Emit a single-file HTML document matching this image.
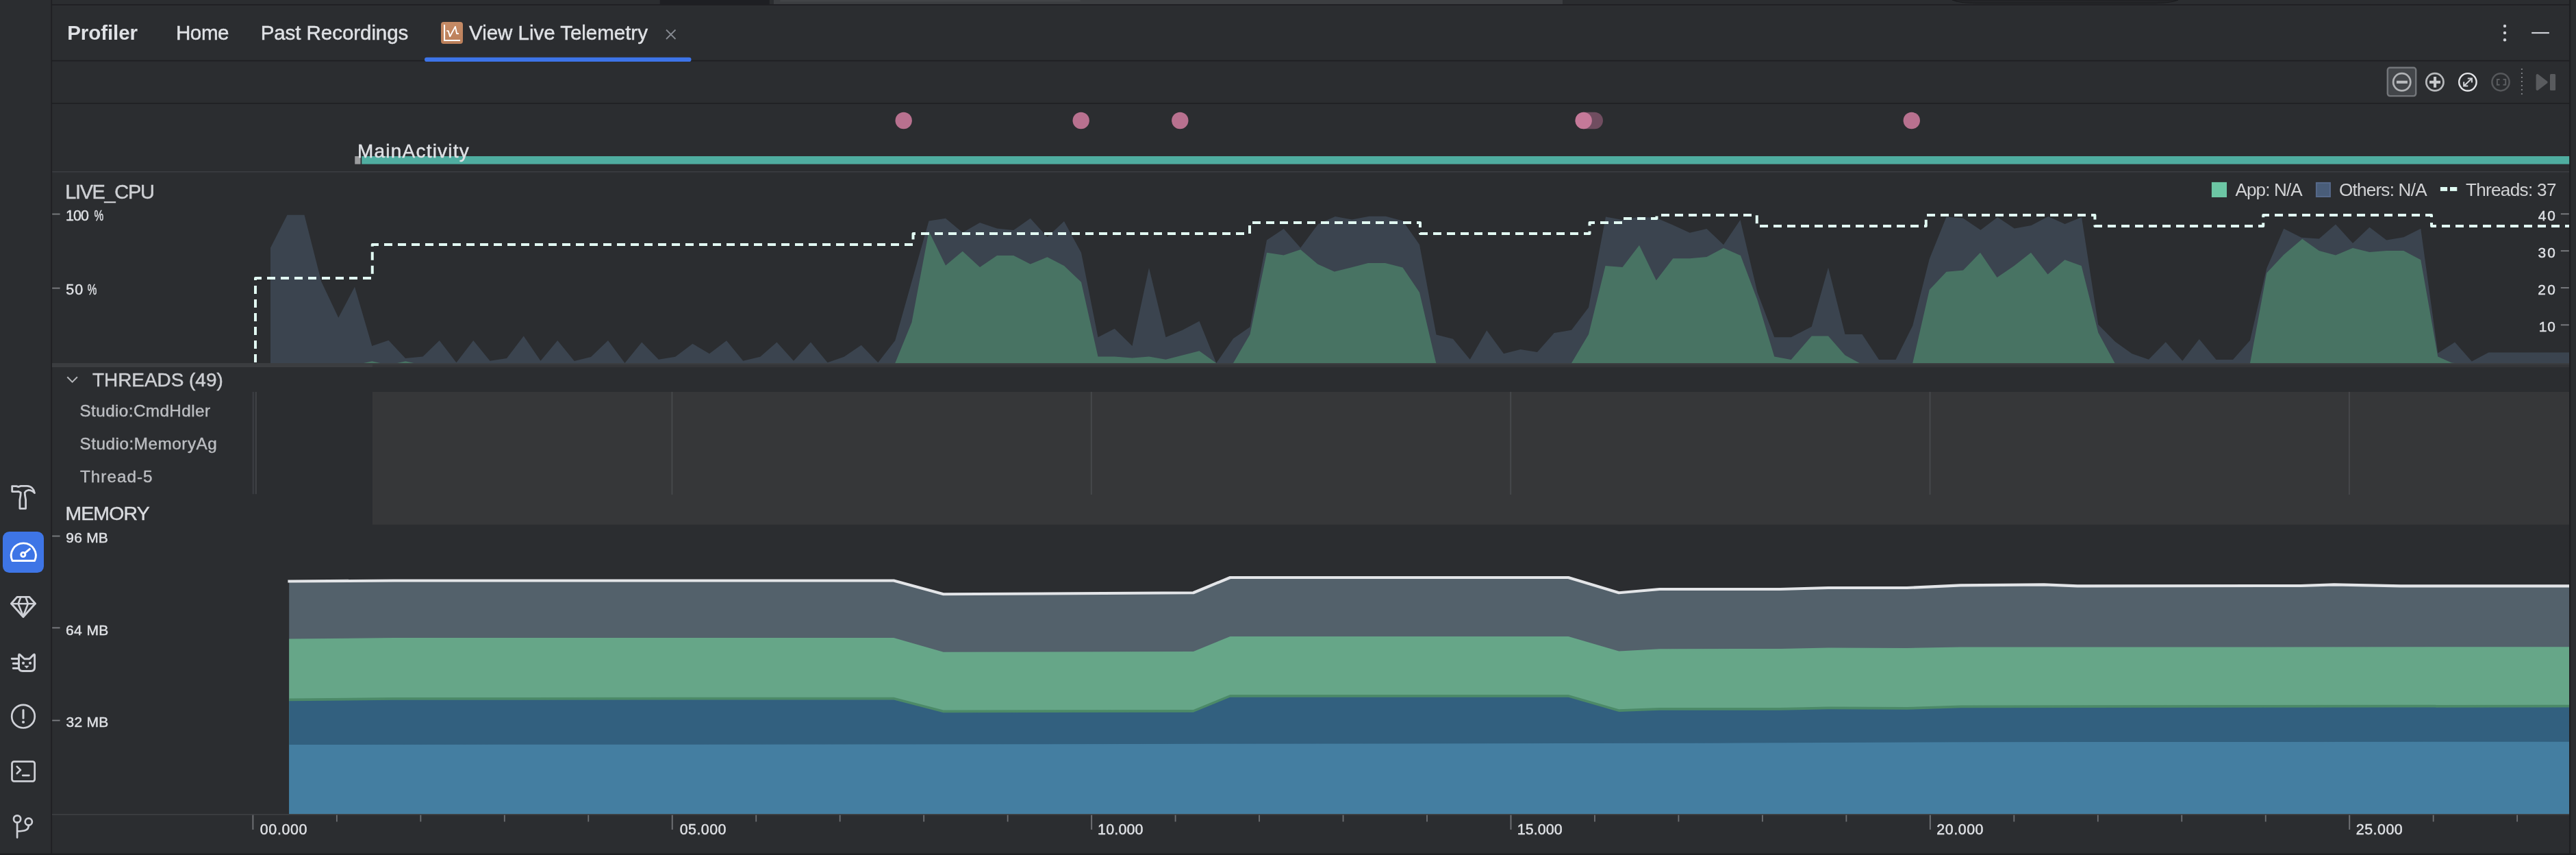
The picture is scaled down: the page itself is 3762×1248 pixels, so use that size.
<!DOCTYPE html>
<html lang="en"><head><meta charset="utf-8"><title>Profiler - View Live Telemetry</title>
<style>
html,body{margin:0;padding:0;background:#2b2d30;}
body{width:3762px;height:1248px;overflow:hidden;position:relative;font-family:"Liberation Sans",sans-serif;}
svg{position:absolute;left:0;top:0;display:block;will-change:transform;}
svg text{font-family:"Liberation Sans",sans-serif;white-space:pre;}
</style></head>
<body>
<svg width="3762" height="1248" viewBox="0 0 3762 1248">
<rect x="963.75" y="0" width="160" height="6.5" fill="#1e1f23"/>
<rect x="1130" y="0" width="1152" height="6.5" fill="#3c3e41"/>
<rect x="1139" y="0" width="439" height="2.6" fill="#434548" rx="2"/>
<path d="M2851,0 Q2862,4.6 2884,4.6 H3148 Q3170,4.6 3181,0 Z" fill="#242528" stroke="#1b1c1e" stroke-width="1"/>
<rect x="75" y="6.2" width="3679" height="1.6" fill="#1e1f22"/>
<rect x="75" y="87.8" width="3679" height="1.7" fill="#1e1f22"/>
<rect x="75" y="150" width="3679" height="1.6" fill="#1e1f22"/>
<rect x="76" y="250" width="3676" height="1.5" fill="#3c3e42"/>
<rect x="74.4" y="0" width="1.7" height="1248" fill="#1e1f22"/>
<rect x="3752" y="0" width="2.3" height="1248" fill="#1e1f22"/>
<rect x="0" y="1245.6" width="3762" height="2.4" fill="#1e1f22"/>
<rect x="620" y="83.75" width="389.5" height="6.25" fill="#3d74e8" rx="3.1"/>
<defs><linearGradient id="ig" x1="0" y1="0" x2="0" y2="1"><stop offset="0" stop-color="#c58b66"/><stop offset="1" stop-color="#bb7f5a"/></linearGradient></defs>
<rect x="644" y="31.9" width="32" height="32.2" fill="url(#ig)" rx="4"/>
<path d="M649.05,36 V58.9 H672" fill="none" stroke="#fff" stroke-width="2.05"/>
<path d="M652.3,45.1 H654.7 L657.1,53.2 L664.9,38.9 L667.1,49.1 H670" fill="none" stroke="#fff" stroke-width="1.9" stroke-linejoin="round"/>
<path d="M973,43.5 L986.5,57 M986.5,43.5 L973,57" stroke="#868a91" stroke-width="1.8" fill="none"/>
<circle cx="3658" cy="38" r="2.2" fill="#ced0d6"/>
<circle cx="3658" cy="48" r="2.2" fill="#ced0d6"/>
<circle cx="3658" cy="58.2" r="2.2" fill="#ced0d6"/>
<rect x="3697.2" y="46.9" width="25.7" height="2.2" fill="#ced0d6"/>
<rect x="3486.8" y="98.7" width="41.4" height="41.4" fill="#43464a" rx="3.5" stroke="#73767a" stroke-width="2.4"/>
<circle cx="3507.7" cy="119.8" r="12.6" fill="none" stroke="#b0b2b5" stroke-width="2.7"/>
<rect x="3499.9" y="117.8" width="16" height="4.1" fill="#b9bbbe"/>
<circle cx="3555.9" cy="119.8" r="12.6" fill="none" stroke="#b6b8bb" stroke-width="2.7"/>
<rect x="3548" y="117.8" width="16" height="4.1" fill="#c6c8cb"/>
<rect x="3554" y="112" width="4.1" height="15.8" fill="#c6c8cb"/>
<circle cx="3603.9" cy="119.8" r="12.7" fill="none" stroke="#e4e5e8" stroke-width="2.4"/>
<path d="M3598.8,125 L3609.3,115.1 M3603.8,114.5 H3609.9 V120.6 M3598.2,119.4 V125.5 H3604.3" fill="none" stroke="#cfd1d5" stroke-width="2.1"/>
<circle cx="3652" cy="119.8" r="12.6" fill="none" stroke="#56585b" stroke-width="2.5"/>
<path d="M3650.6,116 H3646.9 V123.8 H3650.6 M3655.6,116 H3659.2 V123.8 H3655.6" fill="none" stroke="#5a5c5f" stroke-width="2"/>
<path d="M3682.9,100 V139" stroke="#7c7e82" stroke-width="2" stroke-dasharray="1.9 4.1" fill="none"/>
<path d="M3705.6,110 L3718.6,120 L3705.6,130 Z" fill="#595b5e" stroke="#595b5e" stroke-width="4" stroke-linejoin="round"/>
<rect x="3724" y="108.1" width="8.1" height="23.8" fill="#595b5e" rx="1.5"/>
<circle cx="1319.7" cy="176" r="12.2" fill="#b8718f"/>
<circle cx="1578.7" cy="176" r="12.2" fill="#b8718f"/>
<circle cx="1723.3" cy="176" r="12.2" fill="#b8718f"/>
<circle cx="2791.8" cy="176" r="12.2" fill="#b8718f"/>
<rect x="2300.5" y="163.8" width="40.5" height="24.4" fill="#704d60" rx="12.2"/>
<circle cx="2312.7" cy="176" r="12.2" fill="#c57999"/>
<rect x="518.25" y="228" width="8.3" height="11.6" fill="#9b9c9e"/>
<rect x="528.25" y="228" width="3223.9" height="11.6" fill="#4fada0"/>
<polygon points="395,530 395,361.75 419.5,313.75 444.5,313.75 469.25,411 494.25,463.75 518,418.75 543.25,505 567.5,496.75 592,523 617.5,520.5 641.75,497 666.5,529.25 691.25,497 715.5,526.75 740,523 764.75,490.5 789.5,526.75 814.25,497 838.75,527 863,521 888,497 912.5,530 937.25,499.5 961.75,524.75 986.25,520.75 1011.5,501.75 1036,516.25 1061,497.25 1085.25,526.75 1110.25,520.75 1134.5,499.5 1159,526.75 1184,499.5 1208.5,529.25 1232.75,520.75 1257.75,503.75 1282.25,529.25 1307.25,497 1332,409.25 1356.5,322.5 1381,318.75 1405.75,339.5 1431,325 1456,333.5 1480.25,336 1504.75,318.75 1529.5,346 1554,323 1579,368.75 1603.5,492.25 1627.75,479.75 1653.5,505 1678,391 1702.5,492.25 1727,481.75 1751.5,468.75 1776.25,530 1801,494.25 1825.5,477.25 1850,350.5 1874.75,334 1899.25,361.75 1925,327 1950,316 1974.4,320.4 1999.4,315.75 2023.75,315.75 2048.75,322.5 2073,357 2097.5,488.5 2122,494.75 2146.75,524.75 2171.25,482.25 2196,516.25 2220.5,510 2245,514 2269.75,486 2295,481.75 2320,448.75 2345,316.5 2369.5,321 2394,316.5 2418.75,318 2443.25,328.5 2467.75,339.75 2492.5,334 2517,357.25 2541.5,321 2566.5,426.75 2591.25,492.25 2615.75,492.25 2645.75,476.75 2670,390.5 2694.5,488 2719.5,488 2744,525 2768.5,525 2793.25,475.5 2817.75,378 2842.5,316.6 2866.9,318.5 2892.5,335.75 2917.25,317 2941.9,333.5 2966.5,329.1 2991.25,316 3015.6,327 3040,317 3064.25,473.75 3089,498.75 3113.5,516.25 3138,524.75 3162.75,499.25 3187.25,526.75 3211.75,495 3236.5,525 3261,525 3286,496.75 3310.25,391.75 3335.25,333.75 3361,346.75 3386.75,348.5 3411,327.5 3436,355 3460.5,331.75 3485.25,350.5 3510.25,346.25 3535.25,333.75 3560.25,515.5 3585.1,499.5 3609.8,527.6 3634.3,514.4 3752,514.4 3752,530" fill="#3b444f"/>
<polygon points="531,530 543.25,527.3 555.5,530 580,530 592.3,527.3 604.5,530" fill="#487363"/>
<polygon points="1307.25,530 1331.5,470.5 1356.5,337.5 1381,387.5 1405.75,366.75 1431,390 1456,373 1480.25,373 1504.75,385.5 1529.5,375.25 1554,388 1579,411.75 1603.5,520.5 1627.75,520.5 1653.5,522.5 1678,520.5 1702.5,524.75 1727,518.5 1751.5,512.25 1776.25,530 1801,530 1825.5,488 1850,368.75 1874.75,372.5 1899.25,364.25 1924.25,385.5 1948.75,396.5 1973,390.5 1998,384 2023,384 2048.5,390.5 2073,426.75 2097.25,530" fill="#487363"/>
<polygon points="2295,530 2320,488 2344.5,388 2369.5,390 2394,358 2418.75,409.25 2443.25,377.25 2467.75,377.25 2492.5,375 2517,362 2542,373 2566.5,438 2591.25,520.5 2615.75,525 2645.75,490.5 2670,490.5 2694.5,518.5 2715.75,530" fill="#487363"/>
<polygon points="2793.25,530 2817.75,423 2842.5,396.75 2867,394.5 2892,368.75 2916.5,405 2941.5,388 2966,368.75 2990.5,400.5 3015.5,379.25 3039.75,388 3064.25,485.5 3088.5,530" fill="#487363"/>
<polygon points="3286,530 3310.25,398.5 3335.25,371.75 3362.25,348.75 3386.75,366 3411,372.5 3436,362 3460.5,368 3485.25,366 3510.25,366 3535.25,379.25 3560.25,520.5 3580.4,529.6 3585,530" fill="#487363"/>
<path d="M373,529 V406 H543.75 V357 H1333.5 V341 H1825 V325 H2074 V341 H2321.5 V325 H2369.5 V319 H2419.5 V314 H2565.75 V330 H2812.75 V314 H3059.4 V330 H3305.25 V314 H3551 V330 H3752" fill="none" stroke="#e2fbf3" stroke-width="4" stroke-dasharray="12 8" stroke-linejoin="round"/>
<rect x="76.2" y="311.6" width="11.4" height="1.8" fill="#7d7f83"/>
<rect x="76.2" y="419.7" width="11.4" height="1.8" fill="#7d7f83"/>
<rect x="3739.8" y="311.4" width="12" height="1.8" fill="#7d7f83"/>
<rect x="3739.8" y="365.3" width="12" height="1.8" fill="#7d7f83"/>
<rect x="3739.8" y="419.2" width="12" height="1.8" fill="#7d7f83"/>
<rect x="3739.8" y="473.4" width="12" height="1.8" fill="#7d7f83"/>
<rect x="3229.9" y="265.9" width="22.1" height="22.1" fill="#6cc6a4"/>
<rect x="3382.9" y="266.9" width="20" height="20.1" fill="#495d79" stroke="#56698a" stroke-width="2"/>
<rect x="3563.9" y="273" width="10.2" height="5.9" fill="#dffbf3"/>
<rect x="3578" y="273" width="10.3" height="5.9" fill="#dffbf3"/>
<rect x="76" y="530" width="3676" height="6" fill="#343538"/>
<rect x="76" y="530" width="3676" height="2.1" fill="#3b3d40"/>
<rect x="76" y="530" width="468" height="6" fill="#3b3d40"/>
<rect x="544" y="572" width="3208" height="193.8" fill="#363739"/>
<rect x="980.46" y="572" width="2" height="150" fill="#46484b"/>
<rect x="1592.82" y="572" width="2" height="150" fill="#46484b"/>
<rect x="2205.18" y="572" width="2" height="150" fill="#46484b"/>
<rect x="2817.54" y="572" width="2" height="150" fill="#46484b"/>
<rect x="3429.9" y="572" width="2" height="150" fill="#46484b"/>
<rect x="368.75" y="572" width="2" height="149.3" fill="#3d3f43"/>
<rect x="372.5" y="572" width="2.5" height="149.3" fill="#3d3f43"/>
<path d="M98.3,550.3 L105.6,557.6 L112.9,550.3" fill="none" stroke="#b4b6ba" stroke-width="2"/>
<rect x="76.2" y="781.6" width="11.4" height="1.8" fill="#7d7f83"/>
<rect x="76.2" y="915.5" width="11.4" height="1.8" fill="#7d7f83"/>
<rect x="76.2" y="1050.7" width="11.4" height="1.8" fill="#7d7f83"/>
<polygon points="422.2,848.5 575,847.5 1305.25,847.5 1377.75,867.25 1742.75,865.25 1796.5,843 2290.5,843 2364.25,865.25 2423.75,860 2600,860 2670,858 2785,858 2863.4,854.4 2985,853.4 3033.8,855.4 3360,855 3408.7,853.4 3506,855.4 3752,855.4 3752,1188.2 422.2,1188.2" fill="#53616b"/>
<polygon points="422.2,932.5 575,931 1305.25,931 1377.75,951.75 1742.75,951 1796.5,929 2290.5,929 2364.25,950.5 2423.75,947.25 2600,947 2670,945.5 2785,946 2863.4,944.5 3752,944.3 3752,1188.2 422.2,1188.2" fill="#66a688"/>
<polygon points="422.2,1019.5 575,1018 1305.25,1017.75 1377.75,1036.5 1742.75,1036 1796.5,1014 2290.5,1014 2364.25,1035.25 2423.75,1033 2600,1033 2670,1031.5 2785,1032 2863.4,1029.5 3752,1028.7 3752,1188.2 422.2,1188.2" fill="#4c8a68"/>
<polygon points="422.2,1023.25 575,1021.75 1305.25,1021.5 1377.75,1040.25 1742.75,1039.75 1796.5,1017.75 2290.5,1017.75 2364.25,1039 2423.75,1036.75 2600,1036.75 2670,1035.25 2785,1035.75 2863.4,1033.25 3752,1032.45 3752,1188.2 422.2,1188.2" fill="#32607f"/>
<polygon points="422.2,1087 1254,1086.6 2508,1084.7 2863,1083.2 3752,1082.7 3752,1188.2 422.2,1188.2" fill="#447ea1"/>
<polyline points="420.4,848.5 575,847.5 1305.25,847.5 1377.75,867.25 1742.75,865.25 1796.5,843 2290.5,843 2364.25,865.25 2423.75,860 2600,860 2670,858 2785,858 2863.4,854.4 2985,853.4 3033.8,855.4 3360,855 3408.7,853.4 3506,855.4 3752,855.4" fill="none" stroke="#e3e5e8" stroke-width="4.1" stroke-linejoin="round"/>
<rect x="76" y="1188.1" width="3676" height="1.5" fill="#404245"/>
<rect x="368.4" y="1189.6" width="2" height="21.4" fill="#6d6f73"/>
<rect x="490.972" y="1189.6" width="1.8" height="9.8" fill="#6d6f73"/>
<rect x="613.444" y="1189.6" width="1.8" height="9.8" fill="#6d6f73"/>
<rect x="735.916" y="1189.6" width="1.8" height="9.8" fill="#6d6f73"/>
<rect x="858.388" y="1189.6" width="1.8" height="9.8" fill="#6d6f73"/>
<rect x="980.76" y="1189.6" width="2" height="21.4" fill="#6d6f73"/>
<rect x="1103.33" y="1189.6" width="1.8" height="9.8" fill="#6d6f73"/>
<rect x="1225.8" y="1189.6" width="1.8" height="9.8" fill="#6d6f73"/>
<rect x="1348.28" y="1189.6" width="1.8" height="9.8" fill="#6d6f73"/>
<rect x="1470.75" y="1189.6" width="1.8" height="9.8" fill="#6d6f73"/>
<rect x="1593.12" y="1189.6" width="2" height="21.4" fill="#6d6f73"/>
<rect x="1715.69" y="1189.6" width="1.8" height="9.8" fill="#6d6f73"/>
<rect x="1838.16" y="1189.6" width="1.8" height="9.8" fill="#6d6f73"/>
<rect x="1960.64" y="1189.6" width="1.8" height="9.8" fill="#6d6f73"/>
<rect x="2083.11" y="1189.6" width="1.8" height="9.8" fill="#6d6f73"/>
<rect x="2205.48" y="1189.6" width="2" height="21.4" fill="#6d6f73"/>
<rect x="2328.05" y="1189.6" width="1.8" height="9.8" fill="#6d6f73"/>
<rect x="2450.52" y="1189.6" width="1.8" height="9.8" fill="#6d6f73"/>
<rect x="2573" y="1189.6" width="1.8" height="9.8" fill="#6d6f73"/>
<rect x="2695.47" y="1189.6" width="1.8" height="9.8" fill="#6d6f73"/>
<rect x="2817.84" y="1189.6" width="2" height="21.4" fill="#6d6f73"/>
<rect x="2940.41" y="1189.6" width="1.8" height="9.8" fill="#6d6f73"/>
<rect x="3062.88" y="1189.6" width="1.8" height="9.8" fill="#6d6f73"/>
<rect x="3185.36" y="1189.6" width="1.8" height="9.8" fill="#6d6f73"/>
<rect x="3307.83" y="1189.6" width="1.8" height="9.8" fill="#6d6f73"/>
<rect x="3430.2" y="1189.6" width="2" height="21.4" fill="#6d6f73"/>
<rect x="3552.77" y="1189.6" width="1.8" height="9.8" fill="#6d6f73"/>
<rect x="3675.24" y="1189.6" width="1.8" height="9.8" fill="#6d6f73"/>
<g fill="none" stroke="#ced0d6" stroke-width="2.8" stroke-linejoin="round" stroke-linecap="round"><path d="M17.7,709.6 H24 L26.8,710.6 L30.5,709.4 H39.5 C45.6,709.6 49.6,714 50.5,719.6 C47.4,716.4 44,715.2 41,715.5 C38.6,716 37,717.4 36.2,719 L36.4,722.5 L37.6,729.5 V742.3 H28.9 V729.5 L30.1,722.5 L30.3,719 L27,717.4 L24,717.6 H17.7 Z"/></g>
<rect x="4" y="776" width="60" height="60" fill="#3e75e6" rx="9.5"/>
<g fill="none" stroke="#fff" stroke-width="2.9" stroke-linejoin="round"><path d="M18,818.5 A18,18 0 1 1 50.6,818.5 Z"/><circle cx="33.8" cy="809.5" r="3.1"/><path d="M36.2,807.4 L43.4,801.4" stroke-linecap="round"/></g>
<g fill="none" stroke="#ced0d6" stroke-width="2.9" stroke-linejoin="round" stroke-linecap="round"><path d="M25,871.4 H42.9 L51.5,881 L33.9,900.5 L16.5,881 Z"/><path d="M16.6,881.2 H51.4 M30.4,871.4 L26.6,881.2 L33.9,899.5 M37.4,871.4 L40.9,881.2 L33.9,899.5" stroke-width="2.6"/></g>
<g fill="none" stroke="#ced0d6" stroke-width="2.9" stroke-linejoin="round" stroke-linecap="round"><path d="M27.5,956.6 Q27.5,954 29.4,955.9 L35.7,961.7 H43 L48.8,955.9 Q50.6,954 50.6,956.6 V974 Q50.6,979.5 45.1,979.5 H33 Q27.5,979.5 27.5,974 Z"/><path d="M17.2,961.5 H27 M19.2,968.5 H27 M19.2,975.5 H27"/></g>
<circle cx="34" cy="967.9" r="2.05" fill="#ced0d6"/><circle cx="44" cy="967.9" r="2.05" fill="#ced0d6"/>
<path d="M35.8,972 H42.2 L39,975.3 Z" fill="#ced0d6" stroke="#ced0d6" stroke-width="0.6" stroke-linejoin="round"/>
<circle cx="34" cy="1045.7" r="16.8" fill="none" stroke="#ced0d6" stroke-width="2.7"/>
<path d="M34,1036.6 V1048.2" stroke="#ced0d6" stroke-width="3" stroke-linecap="round"/><circle cx="34" cy="1054" r="2.1" fill="#ced0d6"/>
<g fill="none" stroke="#ced0d6" stroke-width="2.7" stroke-linejoin="round" stroke-linecap="round"><rect x="17.5" y="1111.6" width="33.2" height="28.7" rx="3"/><path d="M24.8,1118.9 L30,1123.9 L24.8,1129 M33.2,1131.8 H42.4"/></g>
<g fill="none" stroke="#ced0d6" stroke-width="2.7" stroke-linecap="round"><circle cx="25.1" cy="1195.4" r="5.1"/><circle cx="41.8" cy="1199.5" r="5.1"/><path d="M25.1,1200.6 V1222.6 M41.8,1204.7 C41.8,1211 38,1213.4 25.1,1213.4"/></g>
<text x="98.23" y="58.00" font-size="29.57" font-weight="bold" fill="#dfe1e5" stroke="#dfe1e5" stroke-width="0.0" letter-spacing="-0.102">Profiler</text>
<text x="256.88" y="58.00" font-size="29.57" font-weight="normal" fill="#dfe1e5" stroke="#dfe1e5" stroke-width="0.45" letter-spacing="-0.394">Home</text>
<text x="380.63" y="58.00" font-size="29.57" font-weight="normal" fill="#dfe1e5" stroke="#dfe1e5" stroke-width="0.45" letter-spacing="-0.083">Past Recordings</text>
<text x="685.00" y="58.00" font-size="29.57" font-weight="normal" fill="#dfe1e5" stroke="#dfe1e5" stroke-width="0.45" letter-spacing="-0.048">View Live Telemetry</text>
<text x="522.01" y="229.50" font-size="27.97" font-weight="normal" fill="#dfe1e5" stroke="#dfe1e5" stroke-width="0.45" letter-spacing="1.230">MainActivity</text>
<text x="95.18" y="289.50" font-size="28.99" font-weight="normal" fill="#cdcfd3" stroke="#cdcfd3" stroke-width="0.45" letter-spacing="-1.357">LIVE_CPU</text>
<text x="96.00" y="322.00" font-size="21.43" font-weight="normal" fill="#dfe1e5" stroke="#dfe1e5" stroke-width="0.45" letter-spacing="-0.864">100</text>
<text x="96.14" y="430.30" font-size="21.43" font-weight="normal" fill="#dfe1e5" stroke="#dfe1e5" stroke-width="0.45" letter-spacing="1.197">50</text>
<text x="134.94" y="563.75" font-size="27.97" font-weight="normal" fill="#cdcfd3" stroke="#cdcfd3" stroke-width="0.45" letter-spacing="-0.034">THREADS (49)</text>
<text x="116.53" y="607.50" font-size="24.28" font-weight="normal" fill="#bbbdc1" stroke="#bbbdc1" stroke-width="0.45" letter-spacing="0.407">Studio:CmdHdler</text>
<text x="116.53" y="655.75" font-size="24.28" font-weight="normal" fill="#bbbdc1" stroke="#bbbdc1" stroke-width="0.45" letter-spacing="0.529">Studio:MemoryAg</text>
<text x="117.01" y="703.75" font-size="24.28" font-weight="normal" fill="#bbbdc1" stroke="#bbbdc1" stroke-width="0.45" letter-spacing="1.016">Thread-5</text>
<text x="95.43" y="759.40" font-size="28.41" font-weight="normal" fill="#d9dbdf" stroke="#d9dbdf" stroke-width="0.45" letter-spacing="-0.832">MEMORY</text>
<text x="96.26" y="791.70" font-size="21.00" font-weight="normal" fill="#dfe1e5" stroke="#dfe1e5" stroke-width="0.45" letter-spacing="0.233">96 MB</text>
<text x="96.05" y="927.20" font-size="21.00" font-weight="normal" fill="#dfe1e5" stroke="#dfe1e5" stroke-width="0.45" letter-spacing="0.386">64 MB</text>
<text x="96.47" y="1061.00" font-size="21.00" font-weight="normal" fill="#dfe1e5" stroke="#dfe1e5" stroke-width="0.45" letter-spacing="0.281">32 MB</text>
<text x="3264.40" y="286.00" font-size="26.09" font-weight="normal" fill="#d2d3d5" stroke="#d2d3d5" stroke-width="0.0" letter-spacing="-0.868">App: N/A</text>
<text x="3415.96" y="286.00" font-size="26.09" font-weight="normal" fill="#d2d3d5" stroke="#d2d3d5" stroke-width="0.0" letter-spacing="-0.760">Others: N/A</text>
<text x="3600.88" y="286.00" font-size="26.09" font-weight="normal" fill="#d2d3d5" stroke="#d2d3d5" stroke-width="0.0" letter-spacing="-0.659">Threads: 37</text>
<text x="3706.78" y="322.40" font-size="20.86" font-weight="normal" fill="#dfe1e5" stroke="#dfe1e5" stroke-width="0.45" letter-spacing="1.872">40</text>
<text x="3706.57" y="376.30" font-size="20.86" font-weight="normal" fill="#dfe1e5" stroke="#dfe1e5" stroke-width="0.45" letter-spacing="2.080">30</text>
<text x="3706.16" y="430.20" font-size="20.86" font-weight="normal" fill="#dfe1e5" stroke="#dfe1e5" stroke-width="0.45" letter-spacing="2.497">20</text>
<text x="3707.74" y="483.80" font-size="20.86" font-weight="normal" fill="#dfe1e5" stroke="#dfe1e5" stroke-width="0.45" letter-spacing="0.915">10</text>
<text x="379.86" y="1218.10" font-size="21.43" font-weight="normal" fill="#dfe1e5" stroke="#dfe1e5" stroke-width="0.45" letter-spacing="0.595">00.000</text>
<text x="992.72" y="1218.10" font-size="21.43" font-weight="normal" fill="#dfe1e5" stroke="#dfe1e5" stroke-width="0.45" letter-spacing="0.455">05.000</text>
<text x="1603.12" y="1218.10" font-size="21.43" font-weight="normal" fill="#dfe1e5" stroke="#dfe1e5" stroke-width="0.45" letter-spacing="0.167">10.000</text>
<text x="2215.68" y="1218.10" font-size="21.43" font-weight="normal" fill="#dfe1e5" stroke="#dfe1e5" stroke-width="0.45" letter-spacing="0.107">15.000</text>
<text x="2828.37" y="1218.10" font-size="21.43" font-weight="normal" fill="#dfe1e5" stroke="#dfe1e5" stroke-width="0.45" letter-spacing="0.521">20.000</text>
<text x="3440.73" y="1218.10" font-size="21.43" font-weight="normal" fill="#dfe1e5" stroke="#dfe1e5" stroke-width="0.45" letter-spacing="0.501">25.000</text>
<text x="137.5" y="322" font-size="21.43" fill="#dfe1e5" stroke="#dfe1e5" stroke-width="0.4" textLength="13.75" lengthAdjust="spacingAndGlyphs">%</text>
<text x="127.75" y="430.3" font-size="21.43" fill="#dfe1e5" stroke="#dfe1e5" stroke-width="0.4" textLength="13.65" lengthAdjust="spacingAndGlyphs">%</text>
</svg>
</body></html>
